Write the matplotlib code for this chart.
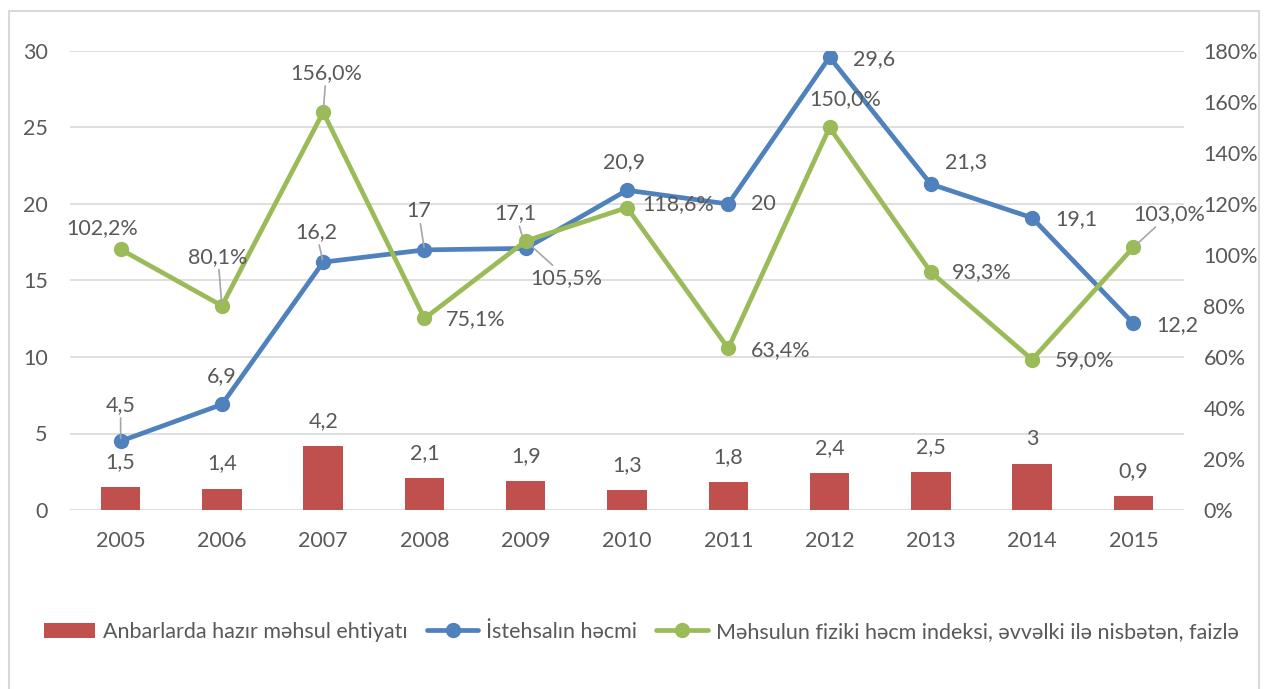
from matplotlib import pyplot as plt
from matplotlib.patches import Rectangle
from matplotlib.ticker import FuncFormatter

plt.rcParams['font.family'] = ['Lato', 'DejaVu Sans']

years = ['2005', '2006', '2007', '2008', '2009', '2010', '2011', '2012', '2013', '2014', '2015']
stock = [1.5, 1.4, 4.2, 2.1, 1.9, 1.3, 1.8, 2.4, 2.5, 3, 0.9]
production = [4.5, 6.9, 16.2, 17, 17.1, 20.9, 20, 29.6, 21.3, 19.1, 12.2]
volume_index = [102.2, 80.1, 156.0, 75.1, 105.5, 118.6, 63.4, 150.0, 93.3, 59.0, 103.0]

legend_labels = ['Anbarlarda hazır məhsul ehtiyatı',
                 'İstehsalın həcmi',
                 'Məhsulun fiziki həcm indeksi, əvvəlki ilə nisbətən, faizlə']

# label offsets in pixels (dx, dy with y down), and whether a leader line is drawn
blue_off = [(0, -36), (0, -28), (-7, -30), (-6, -39), (-10, -35), (-3, -28),
            (35, 0), (45, 2), (35, -22), (44, 1), (44, 2)]
blue_lead = [True, False, True, True, True, False, False, False, False, False, False]
green_off = [(-18, -21), (-4, -49), (3, -39), (51, 1), (41, 37), (51, -3),
             (52, 2), (16, -28), (51, 0), (53, 1), (36, -33)]
green_lead = [False, True, True, False, True, False, False, False, False, False, True]

RED = '#C0504D'
BLUE = '#4F81BD'
GREEN = '#9BBB59'
TXT = '#595959'
GRID = '#D9D9D9'
FS = 15.5

x = list(range(len(years)))


def fmt(v, pct=False):
    s = ('%.1f' % v) if pct else ('%g' % v)
    return s.replace('.', ',') + ('%' if pct else '')


figure = plt.figure(figsize=(12.72, 6.89), dpi=100)
ax = figure.add_axes([70 / 1272, 1 - 510 / 689, 1114 / 1272, 459 / 689])
ax2 = ax.twinx()

bars = ax.bar(x, stock, width=0.39, color=RED, zorder=2)
l1, = ax.plot(x, production, color=BLUE, lw=3.4, marker='o', ms=10, zorder=3,
              solid_capstyle='round')
l2, = ax2.plot(x, volume_index, color=GREEN, lw=3.4, marker='o', ms=10, zorder=3,
               solid_capstyle='round')

ax.set_xlim(-0.5, len(years) - 0.5)
ax.set_ylim(0, 30)
ax.set_yticks(range(0, 31, 5))
ax2.set_ylim(0, 180)
ax2.set_yticks(range(0, 181, 20))
ax2.yaxis.set_major_formatter(FuncFormatter(lambda v, p: '%d%%' % v))
ax.set_xticks(x)
ax.set_xticklabels(years)

ax.set_axisbelow(True)
ax.grid(axis='y', color=GRID, lw=1.2)
for a in (ax, ax2):
    for s in a.spines.values():
        s.set_visible(False)
ax.tick_params(axis='x', length=0, pad=15, labelsize=FS, labelcolor=TXT)
ax.tick_params(axis='y', length=0, pad=16, labelsize=FS, labelcolor=TXT)
ax2.tick_params(axis='y', length=0, pad=14, labelsize=FS, labelcolor=TXT)

lead = dict(arrowstyle='-', color='#A6A6A6', lw=1.2, shrinkA=0, shrinkB=2)

for xi, v in zip(x, stock):
    ax.annotate(fmt(v), (xi, v), xytext=(0, 25 * 0.72), textcoords='offset points',
                ha='center', va='center', fontsize=FS, color=TXT)

for xi, v, (dx, dy), ld in zip(x, production, blue_off, blue_lead):
    ax.annotate(fmt(v), (xi, v), xytext=(dx * 0.72, -dy * 0.72), textcoords='offset points',
                ha='center', va='center', fontsize=FS, color=TXT,
                arrowprops=lead if ld else None, zorder=5)

for xi, v, (dx, dy), ld in zip(x, volume_index, green_off, green_lead):
    ax2.annotate(fmt(v, True), (xi, v), xytext=(dx * 0.72, -dy * 0.72), textcoords='offset points',
                 ha='center', va='center', fontsize=FS, color=TXT,
                 arrowprops=lead if ld else None, zorder=5)

figure.legend([bars, l1, l2], legend_labels, loc='center', ncol=3,
              bbox_to_anchor=(641 / 1272, 1 - 632 / 689), frameon=False,
              fontsize=FS, labelcolor=TXT, handlelength=2.4, handletextpad=0.35,
              columnspacing=0.9)

figure.patches.append(Rectangle((9 / 1272, -0.05), 1250 / 1272, 1.05 - 11 / 689,
                                transform=figure.transFigure, fill=False,
                                edgecolor=GRID, lw=1.5))

figure.savefig('out.png', dpi=100)
